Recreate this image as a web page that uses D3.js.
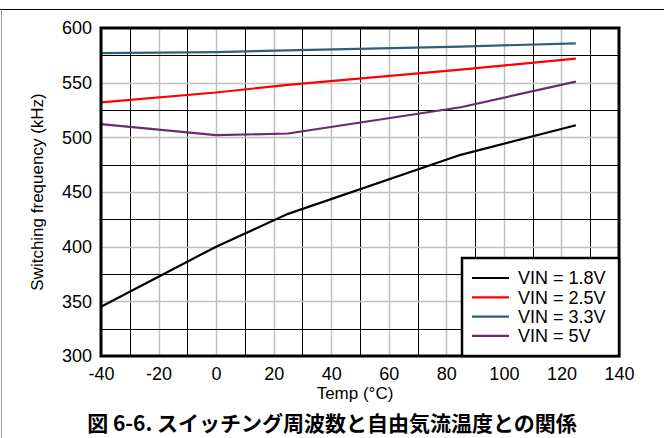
<!DOCTYPE html>
<html>
<head>
<meta charset="utf-8">
<script src="https://cdn.jsdelivr.net/npm/d3@7"></script>
<style>
  html, body { margin: 0; padding: 0; background: #fff; }
  svg { display: block; }
</style>
</head>
<body>
<svg id="chart" width="664" height="438"></svg>
<script>
// Temperature sweep points (°C)
const temps = [-40, 0, 25, 85, 125];
// Switching frequency (kHz) for each input voltage
const vin18 = [345, 400, 430, 484, 511];
const vin25 = [532, 541, 548, 562, 572];
const vin33 = [577, 578, 579.5, 583, 586];
const vin5 = [512, 502, 503.5, 527.5, 551];

const seriesNames = ["VIN = 1.8V", "VIN = 2.5V", "VIN = 3.3V", "VIN = 5V"];
const seriesColors = ["#000000", "#ff0000", "#2f5f78", "#6a2c6a"];
const seriesValues = [vin18, vin25, vin33, vin5];

const xTicks = [-40, -20, 0, 20, 40, 60, 80, 100, 120, 140];
const yTicks = [300, 350, 400, 450, 500, 550, 600];

const xTitle = "Temp (°C)";
const yTitle = "Switching frequency (kHz)";
const caption = "図 6-6. スイッチング周波数と自由気流温度との関係";

const svg = d3.select("#chart");
const font = "'Liberation Sans', Arial, sans-serif";

const plotL = 101, plotR = 619, plotT = 28, plotB = 356;
const x = d3.scaleLinear().domain([-40, 140]).range([plotL, plotR]);
const y = d3.scaleLinear().domain([300, 600]).range([plotB, plotT]);

// Outer figure frame
svg.append("line").attr("x1", 0).attr("x2", 664).attr("y1", 9.5).attr("y2", 9.5)
  .attr("stroke", "#000").attr("stroke-width", 1);
svg.append("line").attr("x1", 1.5).attr("x2", 1.5).attr("y1", 9.5).attr("y2", 438)
  .attr("stroke", "#999").attr("stroke-width", 1);

// Grid: labelled values in light gray, in-between values in black
const grid = svg.append("g");
d3.range(-30, 140, 10).forEach(v => {
  const labelled = v % 20 === 0;
  grid.append("line")
    .attr("x1", Math.round(x(v)) + 0.5).attr("x2", Math.round(x(v)) + 0.5)
    .attr("y1", plotT).attr("y2", plotB)
    .attr("stroke", labelled ? "#c0c0c0" : "#000").attr("stroke-width", labelled ? 1.5 : 1);
});
d3.range(325, 600, 25).forEach(v => {
  const labelled = v % 50 === 0;
  grid.append("line")
    .attr("x1", plotL).attr("x2", plotR)
    .attr("y1", Math.round(y(v)) + 0.5).attr("y2", Math.round(y(v)) + 0.5)
    .attr("stroke", labelled ? "#c0c0c0" : "#000").attr("stroke-width", labelled ? 1.5 : 1);
});

// Axes (tick labels only), plain hyphen for negatives
const fmt = d => String(d);
const xAxis = svg.append("g").attr("transform", `translate(0,${plotB})`)
  .call(d3.axisBottom(x).tickValues(xTicks).tickSize(0).tickPadding(11).tickFormat(fmt));
const yAxis = svg.append("g").attr("transform", `translate(${plotL},0)`)
  .call(d3.axisLeft(y).tickValues(yTicks).tickSize(0).tickPadding(9).tickFormat(fmt));
[xAxis, yAxis].forEach(a => {
  a.select(".domain").remove();
  a.selectAll("text").attr("font-family", font).attr("font-size", 18).attr("fill", "#000");
});

// Data lines
const line = d3.line().x((d, i) => x(temps[i])).y(d => y(d));
seriesValues.forEach((vals, k) => {
  svg.append("path").datum(vals)
    .attr("d", line)
    .attr("fill", "none")
    .attr("stroke", seriesColors[k])
    .attr("stroke-width", 2.2)
    .attr("stroke-linejoin", "round");
});

// Plot border
svg.append("rect").attr("x", plotL).attr("y", plotT)
  .attr("width", plotR - plotL).attr("height", plotB - plotT)
  .attr("fill", "none").attr("stroke", "#000").attr("stroke-width", 3);

// Legend
const lg = svg.append("g");
lg.append("rect").attr("x", 462).attr("y", 258).attr("width", 157).attr("height", 98)
  .attr("fill", "#fff").attr("stroke", "#000").attr("stroke-width", 2.5);
seriesNames.forEach((name, k) => {
  const yy = 278 + k * 19.3;
  lg.append("line").attr("x1", 472).attr("x2", 509).attr("y1", yy).attr("y2", yy)
    .attr("stroke", seriesColors[k]).attr("stroke-width", 2.2);
  lg.append("text").attr("x", 518).attr("y", yy).attr("dy", "0.35em")
    .attr("font-family", font).attr("font-size", 18).attr("fill", "#000")
    .text(name);
});

// Axis titles
svg.append("text").attr("x", 355).attr("y", 399).attr("text-anchor", "middle")
  .attr("font-family", font).attr("font-size", 17).text(xTitle);
svg.append("text").attr("transform", `translate(43,192) rotate(-90)`)
  .attr("text-anchor", "middle")
  .attr("font-family", font).attr("font-size", 17).text(yTitle);

// Figure caption
svg.append("text").attr("x", 332).attr("y", 431).attr("text-anchor", "middle")
  .attr("font-family", "'Noto Sans CJK JP', sans-serif").attr("font-weight", "bold")
  .attr("font-size", 21).text(caption);
</script>
</body>
</html>
